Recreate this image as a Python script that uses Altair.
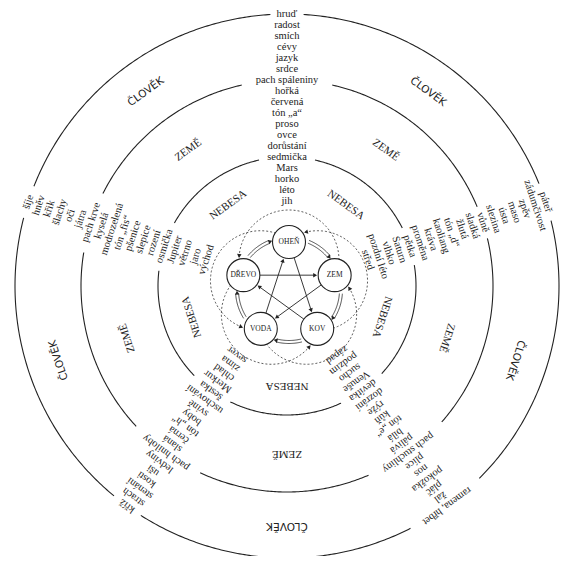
import math
import altair as alt
import pandas as pd

# ---------------- data ----------------
elements = ["OHEŇ", "ZEM", "KOV", "VODA", "DŘEVO"]

fire_words = ["hruď", "radost", "smích", "cévy", "jazyk", "srdce", "pach spáleniny",
              "hořká", "červená", "tón „a“", "proso", "ovce", "dorůstání", "sedmička",
              "Mars", "horko", "léto", "jih"]
earth_words = ["páteř", "zádumčivost", "zpěv", "maso", "ústa", "slezina", "vůně",
               "sladká", "žlutá", "tón „d“", "kaoliang", "kráva", "proměna", "pětka",
               "Saturn", "vlhko", "pozdní léto", "střed"]
metal_words = ["ramena, hřbet", "žal", "pláč", "pokožka", "nos", "plíce", "pach stuchliny",
               "pálivá", "bílá", "tón „e“", "kůň", "rýže", "dozrání", "devítka",
               "Venuše", "sucho", "podzim", "západ"]
water_words = ["kříž", "strach", "stenání", "kosti", "uši", "ledviny", "pach hniloby",
               "slaná", "černá", "tón „h“", "boby", "svině", "uschování", "šestka",
               "Merkur", "chlad", "zima", "sever"]
wood_words = ["šíje", "hněv", "křik", "šlachy", "oči", "játra", "pach krve",
              "kyselá", "modrozelená", "tón „fis“", "pšenice", "slepice", "rození", "osmička",
              "Jupiter", "větrno", "jaro", "východ"]

ring_labels = ["ČLOVĚK", "ZEMĚ", "NEBESA"]

# ---------------- layout ----------------
CX, CY = 287, 286          # centre of the diagram on the page
W, H = 553, 548
X_DOM = [8 - CX, 8 + W - CX]
Y_DOM = [CY - (8 + H), CY - 8]

columns = [fire_words, earth_words, metal_words, water_words, wood_words]
col_angles = [90, 18, -54, -126, 162]
R_OUT, STEP = 272, 11
ring_radii = [R_OUT, R_OUT - 6 * STEP, R_OUT - 13 * STEP]
ring_word_idx = [0, 6, 13]
ring_label_r = [240, 168, 100]
between_angles = [126, 54, -18, -90, 198]

PX, PY, PR, NODE_D = 2, -4, 48, 33


def pol(r, deg, ox=0.0, oy=0.0):
    a = math.radians(deg)
    return ox + r * math.cos(a), oy + r * math.sin(a)


def head_angle(dx, dy):
    return (90 - math.degrees(math.atan2(dy, dx))) % 360


xs = alt.Scale(domain=X_DOM, nice=False, zero=False)
ys = alt.Scale(domain=Y_DOM, nice=False, zero=False)
X = alt.X("x:Q", scale=xs, axis=None)
Y = alt.Y("y:Q", scale=ys, axis=None)

# words in columns
rows = []
for words, ang in zip(columns, col_angles):
    for i, w in enumerate(words):
        x, y = pol(R_OUT - i * STEP, ang)
        rows.append(dict(x=x, y=y, t=w, a=(90 - ang) % 360))
words_df = pd.DataFrame(rows)

# solid circles with gaps where words sit on them
seg_rows = []
for ci, (r, wi) in enumerate(zip(ring_radii, ring_word_idx)):
    gaps = sorted([(ang % 360, math.degrees((len(words[wi]) * 2.9 + 5) / r))
                   for words, ang in zip(columns, col_angles)])
    for k in range(5):
        a0 = gaps[k][0] + gaps[k][1]
        a1 = gaps[(k + 1) % 5][0] - gaps[(k + 1) % 5][1]
        if a1 < a0:
            a1 += 360
        n = max(2, int((a1 - a0) / 0.5))
        for j in range(n + 1):
            t = a0 + (a1 - a0) * j / n
            x, y = pol(r, t)
            seg_rows.append(dict(x=x, y=y, seg=f"c{ci}_{k}", o=j))
circ_df = pd.DataFrame(seg_rows)

# ring labels
lab_rows = []
for lab, r in zip(ring_labels, ring_label_r):
    for ang in between_angles:
        x, y = pol(r, ang)
        lab_rows.append(dict(x=x, y=y, t=lab, a=(90 - ang) % 360))
lab_df = pd.DataFrame(lab_rows)

# nodes
node_rows = []
for name, ang in zip(elements, col_angles):
    x, y = pol(PR, ang, PX, PY)
    node_rows.append(dict(x=x, y=y, t=name))
node_df = pd.DataFrame(node_rows)

head_rows = []

# generating cycle: double arcs (clockwise)
gen_rows = []
for k, a in enumerate([162, 90, 18, -54, -126]):
    a0, a1 = a - 22, a - 72 + 22
    for side, rr in enumerate([PR + 2.5, PR + 5.5]):
        n = 30
        for j in range(n + 1):
            t = a0 + (a1 - a0) * j / n
            x, y = pol(rr, t, PX, PY)
            gen_rows.append(dict(x=x, y=y, seg=f"g{k}_{side}", o=j))
    hx, hy = pol(PR + 4, a1 - 1, PX, PY)
    ph = math.radians(a1 - 1)
    head_rows.append(dict(x=hx, y=hy, ang=head_angle(math.sin(ph), -math.cos(ph))))
gen_df = pd.DataFrame(gen_rows)

# controlling cycle: star arrows
star_rows = []
for k, a in enumerate([162, 18, -126, 90, -54]):
    sx, sy = pol(PR, a, PX, PY)
    ex, ey = pol(PR, a - 144, PX, PY)
    L = math.hypot(ex - sx, ey - sy)
    ux, uy = (ex - sx) / L, (ey - sy) / L
    off = NODE_D / 2
    star_rows.append(dict(x=sx + ux * off, y=sy + uy * off, seg=f"s{k}", o=0))
    star_rows.append(dict(x=ex - ux * (off + 3), y=ey - uy * (off + 3), seg=f"s{k}", o=1))
    head_rows.append(dict(x=ex - ux * (off + 3), y=ey - uy * (off + 3),
                          ang=head_angle(ux, uy)))
star_df = pd.DataFrame(star_rows)

# dashed petals: arcs around each node, from the node at a-72 to the node at a+72
dash_rows = []
PET_C, PET_R = 30, 50
for k, a in enumerate(col_angles):
    pcx, pcy = pol(PET_C, a, PX, PY)
    ends = []
    for b in (a - 72, a + 72):
        nx, ny = pol(PR, b, PX, PY)
        ends.append(math.degrees(math.atan2(ny - pcy, nx - pcx)))
    s, e = ends
    while e < s:
        e += 360
    n = 90
    for j in range(n + 1):
        t = s + (e - s) * j / n
        x, y = pol(PET_R, t, pcx, pcy)
        dash_rows.append(dict(x=x, y=y, seg=f"d{k}", o=j))
    # arrow head where the arc reaches the node at a+72
    nx, ny = pol(PR, a + 72, PX, PY)
    tt = e
    for j in range(200):
        tt = e - j * 0.5
        x, y = pol(PET_R, tt, pcx, pcy)
        if math.hypot(x - nx, y - ny) > NODE_D / 2 + 3:
            break
    ph = math.radians(tt)
    head_rows.append(dict(x=x, y=y, ang=head_angle(-math.sin(ph), math.cos(ph))))
dash_df = pd.DataFrame(dash_rows)
head_df = pd.DataFrame(head_rows)

circles = alt.Chart(circ_df).mark_line(color="#222", strokeWidth=1.1).encode(
    x=X, y=Y, detail="seg:N", order="o:Q")
dashed = alt.Chart(dash_df).mark_line(color="#333", strokeWidth=0.8, strokeDash=[2, 2]).encode(
    x=X, y=Y, detail="seg:N", order="o:Q")
gen = alt.Chart(gen_df).mark_line(color="#222", strokeWidth=0.8).encode(
    x=X, y=Y, detail="seg:N", order="o:Q")
star = alt.Chart(star_df).mark_line(color="#222", strokeWidth=0.9).encode(
    x=X, y=Y, detail="seg:N", order="o:Q")
heads = alt.Chart(head_df).mark_point(shape="triangle-up", filled=True, color="#222",
                                      size=20, opacity=1).encode(
    x=X, y=Y, angle=alt.Angle("ang:Q", scale=None))
nodes = alt.Chart(node_df).mark_point(shape="circle", size=NODE_D ** 2, filled=True,
                                      fill="white", stroke="#222", strokeWidth=1.1,
                                      opacity=1).encode(x=X, y=Y)
node_txt = alt.Chart(node_df).mark_text(font="Liberation Serif", fontSize=7.5,
                                        color="#222").encode(x=X, y=Y, text="t:N")
words_txt = alt.Chart(words_df).mark_text(font="Liberation Serif", fontSize=10.5,
                                          color="#222", baseline="middle").encode(
    x=X, y=Y, text="t:N", angle=alt.Angle("a:Q", scale=None))
ring_serif = alt.Chart(lab_df[lab_df.t != "ČLOVĚK"]).mark_text(
    font="Liberation Serif", fontSize=11, color="#222", baseline="middle").encode(
    x=X, y=Y, text="t:N", angle=alt.Angle("a:Q", scale=None))
ring_sans = alt.Chart(lab_df[lab_df.t == "ČLOVĚK"]).mark_text(
    font="DejaVu Sans", fontSize=10.5, color="#222", baseline="middle").encode(
    x=X, y=Y, text="t:N", angle=alt.Angle("a:Q", scale=None))

chart = alt.layer(circles, dashed, gen, star, heads, nodes, node_txt, words_txt,
                  ring_serif, ring_sans).properties(
    width=W, height=H, padding=0, autosize=alt.AutoSizeParams(type="none"),
    background="white"
).configure_view(stroke=None)

chart.save("out.html", embed_options={"renderer": "svg", "actions": False})
